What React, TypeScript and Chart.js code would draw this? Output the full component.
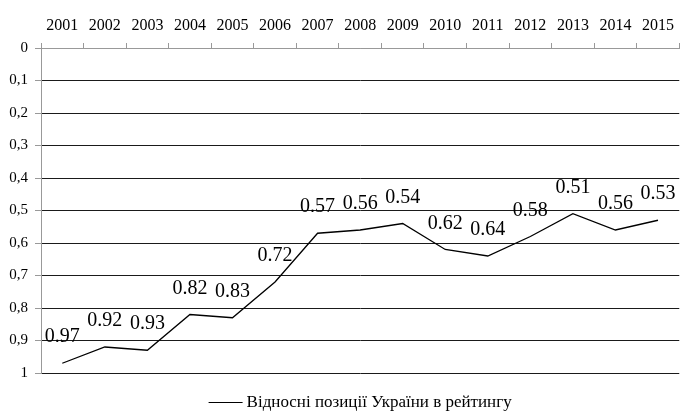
import React, { useEffect, useRef } from "react";
import { Chart, registerables } from "chart.js";

Chart.register(...registerables);

const years = ["2001", "2002", "2003", "2004", "2005", "2006", "2007", "2008", "2009", "2010", "2011", "2012", "2013", "2014", "2015"];
const positions = [0.97, 0.92, 0.93, 0.82, 0.83, 0.72, 0.57, 0.56, 0.54, 0.62, 0.64, 0.58, 0.51, 0.56, 0.53];
const seriesLabel = "Відносні позиції України в рейтингу";

const FONT = "'Liberation Serif', 'Times New Roman', serif";

const valueLabels = {
  id: "valueLabels",
  afterDatasetsDraw(chart: any) {
    const ctx = chart.ctx;
    const meta = chart.getDatasetMeta(0);
    ctx.save();
    ctx.font = `20px ${FONT}`;
    ctx.fillStyle = "#000";
    ctx.textAlign = "center";
    ctx.textBaseline = "alphabetic";
    meta.data.forEach((pt: any, i: number) => {
      ctx.fillText(positions[i].toFixed(2), pt.x, pt.y - 21);
    });
    ctx.restore();
  },
};

const bottomLegend = {
  id: "bottomLegend",
  afterDraw(chart: any) {
    const ctx = chart.ctx;
    const area = chart.chartArea;
    ctx.save();
    ctx.font = `17px ${FONT}`;
    const text = chart.data.datasets[0].label;
    const tw = ctx.measureText(text).width;
    const lineW = 34;
    const gap = 4;
    const total = lineW + gap + tw;
    const cx = (area.left + area.right) / 2;
    const x0 = cx - total / 2;
    const y = area.bottom + 29;
    ctx.strokeStyle = "#000";
    ctx.lineWidth = 1;
    ctx.beginPath();
    ctx.moveTo(x0, y + 0.5);
    ctx.lineTo(x0 + lineW, y + 0.5);
    ctx.stroke();
    ctx.fillStyle = "#000";
    ctx.textAlign = "left";
    ctx.textBaseline = "middle";
    ctx.fillText(text, x0 + lineW + gap, y + 1);
    ctx.restore();
  },
};

export default function App() {
  const ref = useRef<HTMLCanvasElement>(null);
  useEffect(() => {
    document.body.style.margin = "0";
    const chart = new Chart(ref.current!, {
      type: "line",
      data: {
        labels: years,
        datasets: [
          {
            label: seriesLabel,
            data: positions,
            borderColor: "#000",
            backgroundColor: "#000",
            borderWidth: 1.3,
            pointRadius: 0,
            tension: 0,
            fill: false,
          },
        ],
      },
      options: {
        responsive: false,
        animation: false,
        layout: { padding: { top: 0, left: 0, right: 0, bottom: 42 } },
        plugins: {
          tooltip: { enabled: false },
          legend: { display: false },
        },
        scales: {
          x: {
            position: "top",
            offset: true,
            grid: {
              offset: true,
              drawOnChartArea: false,
              tickLength: 5,
              color: "#999",
            },
            border: { color: "#999" },
            ticks: {
              color: "#000",
              font: { family: FONT, size: 16 },
              padding: 8,
              maxRotation: 0,
              autoSkip: false,
            },
            afterFit: (s: any) => {
              s.height = 48;
            },
          },
          y: {
            reverse: true,
            min: 0,
            max: 1,
            ticks: {
              stepSize: 0.1,
              color: "#000",
              font: { family: FONT, size: 15 },
              padding: 7,
              callback: (v: any) => {
                const n = Math.round(Number(v) * 10) / 10;
                return String(n).replace(".", ",");
              },
            },
            grid: {
              color: (c: any) => (c.tick && c.tick.value === 0 ? "#999" : "#1a1a1a"),
              tickColor: "#999",
              tickLength: 6,
            },
            border: { color: "#999" },
            afterFit: (s: any) => {
              s.width = 41;
            },
          },
        },
      },
      plugins: [valueLabels, bottomLegend],
    });
    return () => chart.destroy();
  }, []);
  return (
    <div style={{ width: 682, height: 415 }}>
      <canvas ref={ref} width={682} height={415} />
    </div>
  );
}
